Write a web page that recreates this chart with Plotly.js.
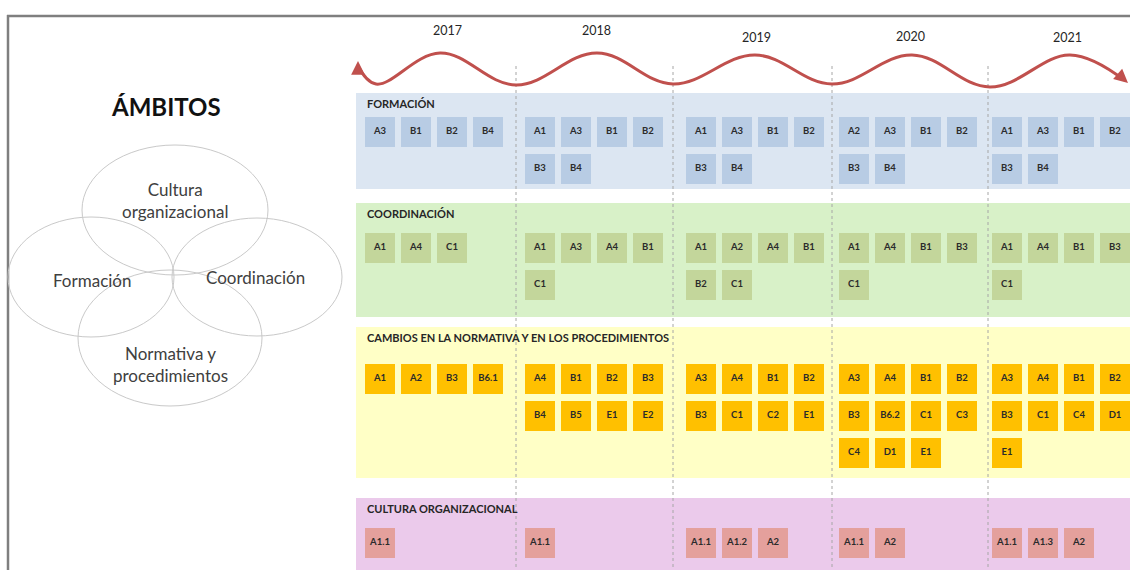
<!DOCTYPE html>
<html>
<head>
<meta charset="utf-8">
<script src="https://cdn.plot.ly/plotly-3.0.1.min.js"></script>
<style>html,body{margin:0;padding:0;background:#fff;}#chart{width:1130px;height:570px;}</style>
</head>
<body>
<div id="chart"></div>
<script>
// ---- data ----
const years = ['2017', '2018', '2019', '2020', '2021'];
const yearLabelX = [447, 596, 756, 910, 1067];
const yearLabelY = [30, 30, 37, 36, 37];
const yearColX = [380, 540, 701, 854, 1007];   // first box column of each year
const yearDividers = [516, 673, 832, 988];

const formacion = [
  ['A3', 'B1', 'B2', 'B4'],
  ['A1', 'A3', 'B1', 'B2', 'B3', 'B4'],
  ['A1', 'A3', 'B1', 'B2', 'B3', 'B4'],
  ['A2', 'A3', 'B1', 'B2', 'B3', 'B4'],
  ['A1', 'A3', 'B1', 'B2', 'B3', 'B4']
];
const coordinacion = [
  ['A1', 'A4', 'C1'],
  ['A1', 'A3', 'A4', 'B1', 'C1'],
  ['A1', 'A2', 'A4', 'B1', 'B2', 'C1'],
  ['A1', 'A4', 'B1', 'B3', 'C1'],
  ['A1', 'A4', 'B1', 'B3', 'C1']
];
const normativa = [
  ['A1', 'A2', 'B3', 'B6.1'],
  ['A4', 'B1', 'B2', 'B3', 'B4', 'B5', 'E1', 'E2'],
  ['A3', 'A4', 'B1', 'B2', 'B3', 'C1', 'C2', 'E1'],
  ['A3', 'A4', 'B1', 'B2', 'B3', 'B6.2', 'C1', 'C3', 'C4', 'D1', 'E1'],
  ['A3', 'A4', 'B1', 'B2', 'B3', 'C1', 'C4', 'D1', 'E1']
];
const cultura = [
  ['A1.1'],
  ['A1.1'],
  ['A1.1', 'A1.2', 'A2'],
  ['A1.1', 'A2'],
  ['A1.1', 'A1.3', 'A2']
];

const bandTitles = ['FORMACIÓN', 'COORDINACIÓN', 'CAMBIOS EN LA NORMATIVA Y EN LOS PROCEDIMIENTOS', 'CULTURA ORGANIZACIONAL'];
const bandData = [formacion, coordinacion, normativa, cultura];
const bandTop = [93, 203, 327, 498];
const bandBottom = [189, 317, 478, 570];
const bandFirstRowY = [132, 248, 379, 543];
const bandFill = ['#dce6f2', '#d8f1c8', '#ffffc6', '#ebcaeb'];
const boxFill = ['#b8cce4', '#c3d69b', '#ffc000', '#e4a09c'];

const venn = [
  {label: 'Cultura<br>organizacional', cx: 175, cy: 210, rx: 93, ry: 65, tx: 175, ty: 200},
  {label: 'Formación', cx: 91, cy: 277, rx: 83, ry: 60, tx: 92, ty: 280},
  {label: 'Coordinación', cx: 257, cy: 277, rx: 85, ry: 59, tx: 255, ty: 277},
  {label: 'Normativa y<br>procedimientos', cx: 170, cy: 338, rx: 92, ry: 68, tx: 170, ty: 364}
];

// decorative wave through its extremes
const waveX = [358, 376, 440, 516, 597, 673, 755, 832, 912, 990, 1070, 1124];
const waveY = [66, 84, 53, 85, 53, 84, 55, 84, 55, 87, 55, 80];

// ---- build ----
const FONT = 'Lato, "Open Sans", sans-serif';
const COLW = 36, ROWH = 37, PERROW = 4;
const traces = [];
const shapes = [];
const annotations = [];

// frame
shapes.push({type: 'line', xref: 'x', yref: 'y', x0: 7, x1: 1130, y0: 16, y1: 16, line: {color: '#7f7f7f', width: 2.5}});
shapes.push({type: 'line', xref: 'x', yref: 'y', x0: 8, x1: 8, y0: 15, y1: 570, line: {color: '#7f7f7f', width: 2.5}});

bandData.forEach((band, b) => {
  shapes.push({type: 'rect', xref: 'x', yref: 'y', x0: 356, x1: 1130, y0: bandTop[b], y1: bandBottom[b],
    fillcolor: bandFill[b], line: {width: 0}, layer: 'below'});
  annotations.push({x: 365, y: bandTop[b] + 10, xref: 'x', yref: 'y', xanchor: 'left', yanchor: 'middle',
    text: '<b>' + bandTitles[b] + '</b>', showarrow: false,
    font: {family: FONT, size: 11, color: '#262626'}});
  const xs = [], ys = [], txt = [];
  band.forEach((items, yi) => {
    items.forEach((lab, i) => {
      xs.push(yearColX[yi] + (i % PERROW) * COLW);
      ys.push(bandFirstRowY[b] + Math.floor(i / PERROW) * ROWH);
      txt.push('<b>' + lab + '</b>');
    });
  });
  traces.push({type: 'scatter', mode: 'markers+text', x: xs, y: ys, text: txt,
    textposition: 'middle center', cliponaxis: false, hoverinfo: 'skip',
    textfont: {family: FONT, size: 9.5, color: '#2b2b2b'},
    marker: {symbol: 'square', size: 30, color: boxFill[b], line: {width: 0}}});
});

yearDividers.forEach(x => {
  shapes.push({type: 'line', xref: 'x', yref: 'y', x0: x, x1: x, y0: 66, y1: 570,
    line: {color: '#a6a6a6', width: 1, dash: 'dot'}, layer: 'below'});
});

venn.forEach(v => {
  shapes.push({type: 'circle', xref: 'x', yref: 'y', x0: v.cx - v.rx, x1: v.cx + v.rx, y0: v.cy - v.ry, y1: v.cy + v.ry,
    line: {color: '#c9c9c9', width: 1}, fillcolor: 'rgba(0,0,0,0)'});
  annotations.push({x: v.tx, y: v.ty, xref: 'x', yref: 'y', text: v.label, showarrow: false,
    font: {family: FONT, size: 17, color: '#404040'}, align: 'center'});
});

annotations.push({x: 166, y: 106, xref: 'x', yref: 'y', text: '<b>ÁMBITOS</b>', showarrow: false,
  font: {family: FONT, size: 24, color: '#111111'}});

years.forEach((y, i) => {
  annotations.push({x: yearLabelX[i], y: yearLabelY[i], xref: 'x', yref: 'y', text: y, showarrow: false,
    font: {family: FONT, size: 12.5, color: '#262626'}});
});

// wave
traces.push({type: 'scatter', mode: 'lines', x: waveX, y: waveY, hoverinfo: 'skip', cliponaxis: false,
  line: {shape: 'spline', smoothing: 1.1, color: '#c0504d', width: 3}});

// arrowheads
annotations.push({x: 358, y: 61, xref: 'x', yref: 'y', ax: 0, ay: 10, showarrow: true, arrowhead: 2,
  arrowsize: 1.1, arrowwidth: 2.5, arrowcolor: '#c0504d', text: ''});
annotations.push({x: 1128, y: 83, xref: 'x', yref: 'y', ax: -8, ay: -7, showarrow: true, arrowhead: 2,
  arrowsize: 1.1, arrowwidth: 2.5, arrowcolor: '#c0504d', text: ''});

const layout = {
  width: 1130, height: 570,
  margin: {l: 0, r: 0, t: 0, b: 0},
  paper_bgcolor: '#ffffff', plot_bgcolor: '#ffffff',
  showlegend: false,
  xaxis: {range: [0, 1130], visible: false, fixedrange: true},
  yaxis: {range: [570, 0], visible: false, fixedrange: true},
  shapes: shapes, annotations: annotations
};

Plotly.newPlot('chart', traces, layout, {displayModeBar: false, staticPlot: true});
</script>
</body>
</html>
